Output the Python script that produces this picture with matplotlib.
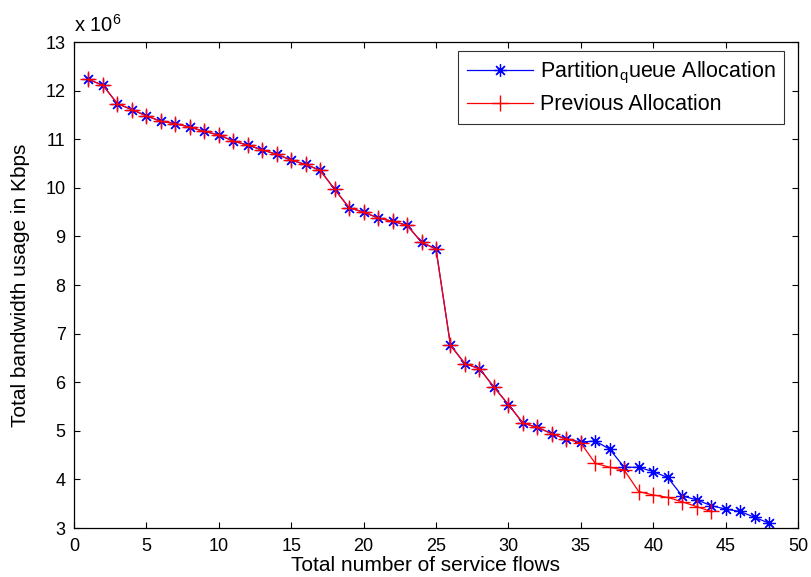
import matplotlib
matplotlib.use("Agg")
import matplotlib.pyplot as plt

plt.rcParams["font.family"] = ["Liberation Sans", "DejaVu Sans"]
plt.rcParams["mathtext.fontset"] = "custom"
plt.rcParams["mathtext.rm"] = "Liberation Sans"
plt.rcParams["mathtext.it"] = "Liberation Sans"

# total bandwidth usage, in units of 1e6 Kbps
flows_partition = list(range(1, 49))
bw_partition = [12.23, 12.11, 11.73, 11.61, 11.48, 11.37, 11.32, 11.25, 11.16, 11.09,
                10.96, 10.88, 10.78, 10.69, 10.57, 10.48, 10.36, 9.97, 9.59, 9.50,
                9.38, 9.31, 9.23, 8.88, 8.74, 6.76, 6.38, 6.28, 5.90, 5.54,
                5.16, 5.07, 4.94, 4.83, 4.77, 4.79, 4.62, 4.25, 4.25, 4.16,
                4.04, 3.66, 3.58, 3.46, 3.39, 3.34, 3.22, 3.10]

flows_previous = list(range(1, 45))
bw_previous = bw_partition[:34] + [4.75, 4.33, 4.25, 4.19, 3.75, 3.68, 3.63, 3.54, 3.44, 3.34]

x_ticks = list(range(0, 51, 5))
y_ticks = list(range(3, 14))

fig = plt.figure(figsize=(8.12, 5.77), dpi=100)
ax = fig.add_axes([0.0911, 0.0849, 0.8917, 0.8423])

# MATLAB-style asterisk and plus markers
ax.plot(flows_partition, bw_partition, color="#0000ff", marker=(8, 2, 0), markersize=9,
        markeredgewidth=0.9, linewidth=0.9, label=r"Partition$_\mathrm{q}$ueue Allocation")
ax.plot(flows_previous, bw_previous, color="#ff0000", marker="+", markersize=11,
        markeredgewidth=1.0, linewidth=0.9, label="Previous Allocation")

ax.set_xlim(0, 50)
ax.set_ylim(3, 13)
ax.set_xticks(x_ticks)
ax.set_yticks(y_ticks)
ax.tick_params(direction="in", top=True, right=True, length=4, width=0.8,
               labelsize=13)
ax.tick_params(axis="x", pad=7)
ax.tick_params(axis="y", pad=6)
for sp in ax.spines.values():
    sp.set_linewidth(0.9)

ax.set_xlabel("Total number of service flows", fontsize=15)
ax.xaxis.set_label_coords(0.485, -0.058)
ax.set_ylabel("Total bandwidth usage in Kbps", fontsize=15, labelpad=11)
ax.text(0.0, 1.02, r"x 10$^{6}$", transform=ax.transAxes, fontsize=14.5,
        ha="left", va="baseline")

leg = ax.legend(loc="upper right", bbox_to_anchor=(0.9807, 0.9815), borderaxespad=0,
                fontsize=15.5, frameon=True, fancybox=False, edgecolor="black",
                handlelength=3.1, handletextpad=0.3, borderpad=0.4, labelspacing=0.4)
leg.get_frame().set_linewidth(0.8)

fig.savefig("out.png", dpi=100, facecolor="white")
